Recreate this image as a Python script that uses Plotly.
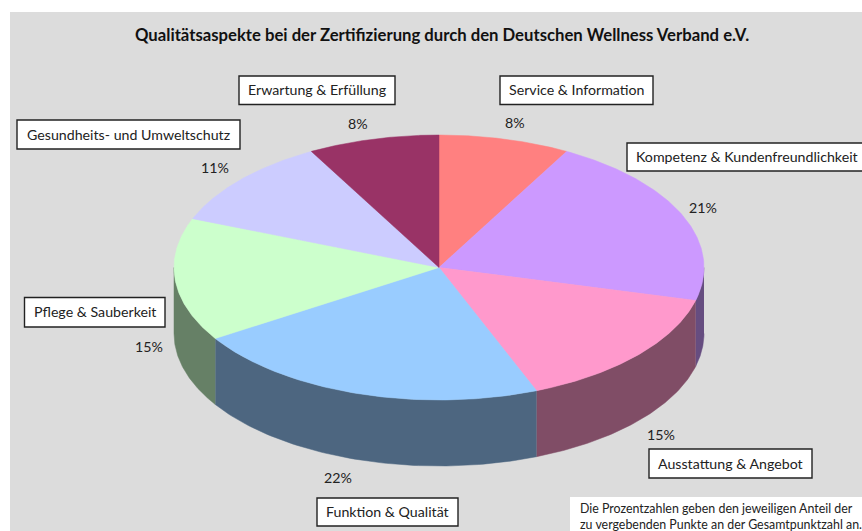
import numpy as np
import plotly.graph_objects as go

# --- data ---
categories = ["Service & Information", "Kompetenz & Kundenfreundlichkeit", "Ausstattung & Angebot",
              "Funktion & Qualität", "Pflege & Sauberkeit", "Gesundheits- und Umweltschutz",
              "Erwartung & Erfüllung"]
shares = [8, 21, 15, 22, 15, 11, 8]
top_colors = ["#FF8080", "#CC99FF", "#FF99CC", "#99CCFF", "#CCFFCC", "#CCCCFF", "#993366"]
side_colors = ["#804040", "#664D80", "#804D66", "#4D6680", "#668066", "#666680", "#4D1A33"]

title_text = "Qualitätsaspekte bei der Zertifizierung durch den Deutschen Wellness Verband e.V."
note_lines = ["Die Prozentzahlen geben den jeweiligen Anteil der",
              "zu vergebenden Punkte an der Gesamtpunktzahl an."]

# --- layout geometry (pixels of the 862x531 canvas) ---
W, H = 862, 531
CX, CY, RX, RY, DEPTH = 439, 267.5, 265, 132.5, 66
FONT = "Lato"
INK = "#222222"
label_boxes = {  # x0, x1, y0, y1
    "Service & Information": (500, 653, 76, 104.5),
    "Kompetenz & Kundenfreundlichkeit": (627, 870, 143, 171),
    "Ausstattung & Angebot": (649, 812, 449, 478),
    "Funktion & Qualität": (317, 458, 498, 526),
    "Pflege & Sauberkeit": (24.5, 165, 297.5, 327),
    "Gesundheits- und Umweltschutz": (17, 240, 120, 149),
    "Erwartung & Erfüllung": (239, 395, 76, 104.5),
}
label_text_x = {"Kompetenz & Kundenfreundlichkeit": 747}
pct_pos = [(515, 122), (703, 207), (661, 434), (338, 477), (149, 346), (215, 167), (358, 123)]


def px(theta):
    return CX + RX * np.sin(theta)


def py(theta):
    return CY - RY * np.cos(theta)


fig = go.Figure()
edges = np.cumsum([0] + shares) / sum(shares) * 2 * np.pi

# side wall: only the front half (90..270 degrees clockwise from the top) is visible
for i, name in enumerate(categories):
    a, b = max(edges[i], np.pi / 2), min(edges[i + 1], 3 * np.pi / 2)
    if a >= b:
        continue
    t = np.linspace(a, b, 80)
    xs = np.r_[px(t), px(t[::-1])]
    ys = np.r_[py(t), py(t[::-1]) + DEPTH]
    fig.add_trace(go.Scatter(x=xs, y=ys, mode="lines", fill="toself", fillcolor=side_colors[i],
                             line=dict(color=side_colors[i], width=0.5), hoverinfo="skip", showlegend=False))

# top surface
for i, name in enumerate(categories):
    t = np.linspace(edges[i], edges[i + 1], 120)
    xs = np.r_[CX, px(t), CX]
    ys = np.r_[CY, py(t), CY]
    fig.add_trace(go.Scatter(x=xs, y=ys, mode="lines", fill="toself", fillcolor=top_colors[i],
                             line=dict(color=top_colors[i], width=0.5), name=name,
                             hovertemplate=f"{name}: {shares[i]}%<extra></extra>", showlegend=False))

shapes = [dict(type="rect", x0=10, x1=W + 5, y0=12, y1=H + 5, fillcolor="#DCDCDC", line_width=0, layer="below"),
          dict(type="rect", x0=570, x1=W + 5, y0=497, y1=H + 5, fillcolor="#FFFFFF", line_width=0, layer="above")]
annotations = [dict(x=441.5, y=35, text=f"<b>{title_text}</b>", showarrow=False,
                    font=dict(family=FONT, size=16.7, color="#111111"))]

for name, share, (x, y) in zip(categories, shares, pct_pos):
    x0, x1, y0, y1 = label_boxes[name]
    shapes.append(dict(type="rect", x0=x0, x1=x1, y0=y0, y1=y1, fillcolor="#FFFFFF",
                       line=dict(color="#222222", width=1.4), layer="above"))
    annotations.append(dict(x=label_text_x.get(name, (x0 + x1) / 2), y=(y0 + y1) / 2 - 0.5, text=name, showarrow=False,
                            font=dict(family=FONT, size=14.2, color=INK)))
    annotations.append(dict(x=x, y=y, text=f"{share}%", showarrow=False,
                            font=dict(family=FONT, size=14.2, color=INK)))

for line, y in zip(note_lines, (508, 524)):
    annotations.append(dict(x=578, y=y, text=line, showarrow=False, xanchor="left",
                            font=dict(family=FONT, size=12.4, color=INK)))

fig.update_layout(width=W, height=H, autosize=False, margin=dict(l=0, r=0, t=0, b=0),
                  paper_bgcolor="#FFFFFF", plot_bgcolor="rgba(0,0,0,0)",
                  xaxis=dict(range=[0, W], visible=False, fixedrange=True),
                  yaxis=dict(range=[H, 0], visible=False, fixedrange=True),
                  shapes=shapes, annotations=annotations, showlegend=False)

fig.write_html("out.html", config={"displayModeBar": False},
               post_script="document.body.style.margin='0';document.body.style.overflow='hidden';")
